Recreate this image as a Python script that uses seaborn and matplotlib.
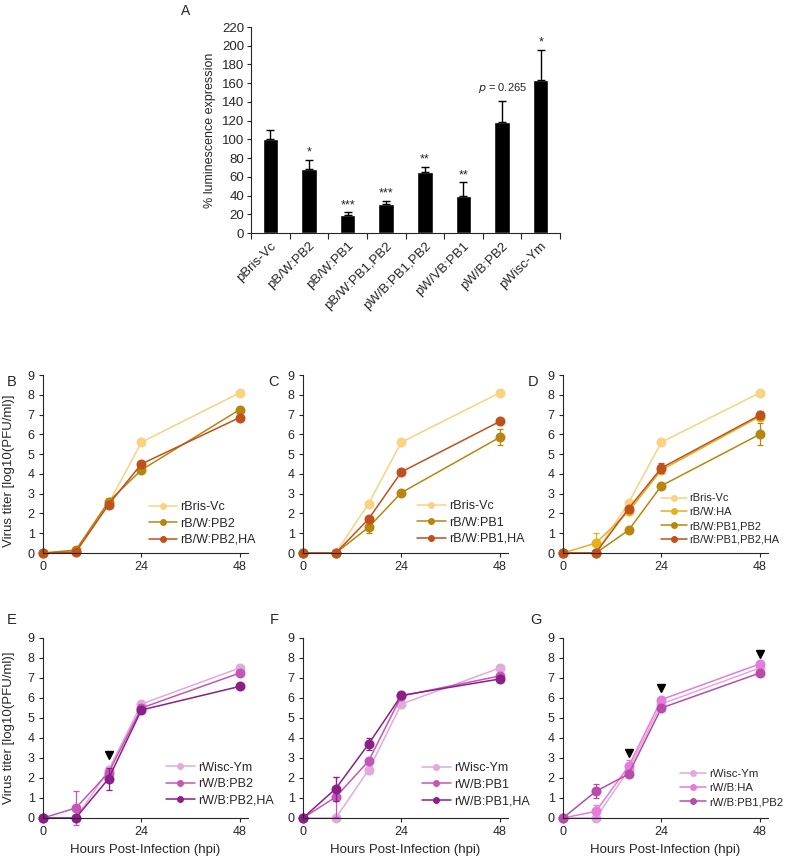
import numpy as np
import pandas as pd
import seaborn as sns
import matplotlib.pyplot as plt
from matplotlib.lines import Line2D

# ---- panel A: luminescence ----
constructs = ['pBris-Vc', 'pB/W:PB2', 'pB/W:PB1', 'pB/W:PB1,PB2',
              'pW/B:PB1,PB2', 'pW/VB:PB1', 'pW/B:PB2', 'pWisc-Ym']
lum_mean = [100, 68.5, 19.5, 30.5, 65.5, 39.5, 118.5, 163.5]
lum_err = [10.5, 9.5, 2.5, 3.5, 5.5, 14.5, 22, 32]
lum_sig = ['', '*', '***', '***', '**', '**', '', '*']

# ---- growth curves ----
hpi = [0, 8, 16, 24, 48]

bris_b = [0, 0.05, 2.5, 5.6, 8.1]
bris_b_err = [0, 0, 0, 0.1, 0.1]
bw_pb2 = [0, 0.15, 2.6, 4.2, 7.25]
bw_pb2_err = [0, 0.05, 0.2, 0.1, 0.15]
bw_pb2ha = [0, 0.05, 2.45, 4.5, 6.85]
bw_pb2ha_err = [0, 0, 0.1, 0.15, 0.1]

bris_c = [0, 0, 2.5, 5.6, 8.1]
bris_c_err = [0, 0, 0.1, 0.1, 0.1]
bw_pb1 = [0, 0, 1.3, 3.05, 5.85]
bw_pb1_err = [0, 0, 0.3, 0.1, 0.4]
bw_pb1ha = [0, 0, 1.72, 4.1, 6.65]
bw_pb1ha_err = [0, 0, 0.15, 0.1, 0.15]

bris_d = [0, 0, 2.55, 5.6, 8.1]
bris_d_err = [0, 0, 0.1, 0.1, 0.1]
bw_ha = [0, 0.5, 2.1, 4.2, 6.9]
bw_ha_err = [0, 0.5, 0.15, 0.1, 0.15]
bw_pb1pb2 = [0, 0, 1.15, 3.4, 6.0]
bw_pb1pb2_err = [0, 0, 0.1, 0.1, 0.55]
bw_pb1pb2ha = [0, 0, 2.25, 4.3, 6.97]
bw_pb1pb2ha_err = [0, 0, 0.1, 0.25, 0.2]

wisc = [0, 0, 2.4, 5.7, 7.5]
wisc_err = [0, 0, 0.2, 0.05, 0.1]
wb_pb2 = [0, 0.5, 2.27, 5.5, 7.25]
wb_pb2_err = [0, 0.85, 0.1, 0.1, 0.1]
wb_pb2ha = [0, 0, 1.97, 5.4, 6.58]
wb_pb2ha_err = [0, 0, 0.55, 0.1, 0.05]

wb_pb1 = [0, 1.05, 2.85, 6.1, 7.1]
wb_pb1_err = [0, 1.0, 0.15, 0.1, 0.1]
wb_pb1ha = [0, 1.47, 3.7, 6.13, 6.95]
wb_pb1ha_err = [0, 0.6, 0.3, 0.1, 0.1]

wb_ha = [0, 0.33, 2.58, 5.92, 7.7]
wb_ha_err = [0, 0.3, 0.3, 0.1, 0.1]
wb_pb1pb2 = [0, 1.33, 2.2, 5.5, 7.25]
wb_pb1pb2_err = [0, 0.35, 0.1, 0.1, 0.1]

# significance arrowheads (hpi, y)
arrows_e = [(16, 3.15)]
arrows_g = [(16, 3.25), (24, 6.5), (48, 8.2)]

C_BRIS, C_GOLD, C_RED, C_HA = '#F9D282', '#B8860E', '#C0501C', '#E2B21E'
C_WISC, C_MAG, C_PURP, C_PINK, C_MAG2 = '#E2AADA', '#C456B7', '#8C1E88', '#E47CDA', '#B84BAB'

sns.set_style('ticks')
plt.rcParams['font.family'] = ['Liberation Sans', 'DejaVu Sans']

W, H = 787, 859
fig = plt.figure(figsize=(W / 100, H / 100), dpi=100)


def px_axes(x0, y_top, x1, y_bot):
    return fig.add_axes([x0 / W, 1 - y_bot / H, (x1 - x0) / W, (y_bot - y_top) / H])


# ---- A ----
axA = px_axes(251, 27, 560, 233)
dfA = pd.DataFrame({'construct': constructs, 'lum': lum_mean})
sns.barplot(data=dfA, x='construct', y='lum', color='black', width=0.4,
            saturation=1, errorbar=None, ax=axA)
pos = np.arange(len(constructs))
axA.errorbar(pos, lum_mean, yerr=[np.zeros(len(pos)), lum_err], fmt='none',
             ecolor='black', elinewidth=1.0, capsize=3, capthick=1.0)
for p, m, e, s in zip(pos, lum_mean, lum_err, lum_sig):
    if s:
        axA.text(p, m + e + 1.5, s, ha='center', va='bottom', fontsize=9)
axA.text(6, 155, r'$p$ = 0.265', ha='center', va='center', fontsize=8)
axA.set_xlim(-0.5, 7.5)
axA.set_ylim(0, 220)
axA.set_yticks(range(0, 221, 20))
axA.set_xticks(pos)
axA.set_xticklabels(constructs, rotation=45, ha='right', rotation_mode='anchor', fontsize=9.5)
axA.set_xticks(np.arange(-0.5, 8, 1), minor=True)
axA.tick_params(axis='x', which='major', length=0, pad=5)
axA.tick_params(axis='x', which='minor', length=4, width=0.8, direction='out')
axA.tick_params(axis='y', length=3, width=0.8, labelsize=9.5, pad=2)
axA.set_xlabel('')
axA.set_ylabel('% luminescence expression', fontsize=9, labelpad=4)
sns.despine(ax=axA)
for sp in axA.spines.values():
    sp.set_linewidth(0.8)
fig.text(181 / W, 1 - 4 / H, 'A', ha='left', va='top', fontsize=10)


# ---- growth panels ----
def growth(ax, series, legend_xy, ylabel=None, xlabel=False, arrows=(), legend_fs=9):
    for name, vals, errs, col in series:
        e = np.array(errs, dtype=float)
        m = e > 0
        ax.errorbar(np.array(hpi)[m], np.array(vals)[m], yerr=e[m], fmt='none',
                    ecolor=col, elinewidth=0.9, capsize=2.5, capthick=0.9, clip_on=False)
        sns.lineplot(x=hpi, y=vals, color=col, marker='o', markersize=7.2,
                     markeredgewidth=0, linewidth=1.1, ax=ax, clip_on=False)
    for x, y in arrows:
        ax.plot(x, y, marker='v', color='black', markersize=6, clip_on=False)
    ax.set_xlim(0, 50)
    ax.set_ylim(0, 9)
    ax.set_xticks([0, 24, 48])
    ax.set_yticks(range(0, 10))
    ax.tick_params(length=3, width=0.8, labelsize=9, pad=3)
    sns.despine(ax=ax)
    for sp in ax.spines.values():
        sp.set_linewidth(0.8)
    handles = [Line2D([], [], color=c, marker='o', markersize=4, linewidth=1.1)
               for _, _, _, c in series]
    ax.legend(handles, [s[0] for s in series], loc='lower left',
              bbox_to_anchor=legend_xy, frameon=False, fontsize=legend_fs,
              handlelength=2.3, handletextpad=0.25, labelspacing=0.35,
              borderpad=0, borderaxespad=0)
    if ylabel is not None:
        ax.set_ylabel('Virus titer [log10(PFU/ml)]', fontsize=9.5)
        ax.yaxis.set_label_coords(-0.135, ylabel)
    else:
        ax.set_ylabel('')
    ax.set_xlabel('Hours Post-Infection (hpi)' if xlabel else '', fontsize=9.5, labelpad=4)


r1_top, r1_bot = 375, 553
r2_top, r2_bot = 638, 818
cols = [(43, 248), (303, 508), (563, 768)]

axB = px_axes(cols[0][0], r1_top, cols[0][1], r1_bot)
growth(axB, [('rBris-Vc', bris_b, bris_b_err, C_BRIS),
             ('rB/W:PB2', bw_pb2, bw_pb2_err, C_GOLD),
             ('rB/W:PB2,HA', bw_pb2ha, bw_pb2ha_err, C_RED)],
       (0.515, 0.04), ylabel=0.46)

axC = px_axes(cols[1][0], r1_top, cols[1][1], r1_bot)
growth(axC, [('rBris-Vc', bris_c, bris_c_err, C_BRIS),
             ('rB/W:PB1', bw_pb1, bw_pb1_err, C_GOLD),
             ('rB/W:PB1,HA', bw_pb1ha, bw_pb1ha_err, C_RED)],
       (0.555, 0.045))

axD = px_axes(cols[2][0], r1_top, cols[2][1], r1_bot)
growth(axD, [('rBris-Vc', bris_d, bris_d_err, C_BRIS),
             ('rB/W:HA', bw_ha, bw_ha_err, C_HA),
             ('rB/W:PB1,PB2', bw_pb1pb2, bw_pb1pb2_err, C_GOLD),
             ('rB/W:PB1,PB2,HA', bw_pb1pb2ha, bw_pb1pb2ha_err, C_RED)],
       (0.48, 0.045), legend_fs=7.9)

axE = px_axes(cols[0][0], r2_top, cols[0][1], r2_bot)
growth(axE, [('rWisc-Ym', wisc, wisc_err, C_WISC),
             ('rW/B:PB2', wb_pb2, wb_pb2_err, C_MAG),
             ('rW/B:PB2,HA', wb_pb2ha, wb_pb2ha_err, C_PURP)],
       (0.6, 0.065), ylabel=0.5, xlabel=True, arrows=arrows_e)

axF = px_axes(cols[1][0], r2_top, cols[1][1], r2_bot)
growth(axF, [('rWisc-Ym', wisc, wisc_err, C_WISC),
             ('rW/B:PB1', wb_pb1, wb_pb1_err, C_MAG),
             ('rW/B:PB1,HA', wb_pb1ha, wb_pb1ha_err, C_PURP)],
       (0.58, 0.06), xlabel=True)

axG = px_axes(cols[2][0], r2_top, cols[2][1], r2_bot)
growth(axG, [('rWisc-Ym', wisc, wisc_err, C_WISC),
             ('rW/B:HA', wb_ha, wb_ha_err, C_PINK),
             ('rW/B:PB1,PB2', wb_pb1pb2, wb_pb1pb2_err, C_MAG2)],
       (0.57, 0.06), xlabel=True, arrows=arrows_g, legend_fs=8.2)

for lab, x, y in [('B', 7, 375), ('C', 268, 375), ('D', 528, 375),
                  ('E', 7, 613), ('F', 270, 613), ('G', 530, 613)]:
    fig.text(x / W, 1 - y / H, lab, ha='left', va='top', fontsize=10.5)

fig.savefig('out.png', dpi=100)
